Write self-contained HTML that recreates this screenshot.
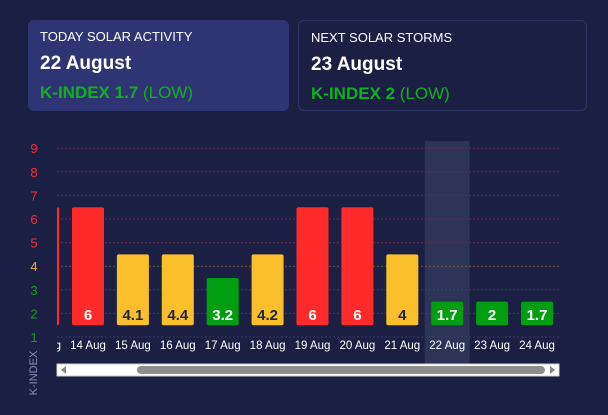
<!DOCTYPE html>
<html><head><meta charset="utf-8"><style>
body{margin:0;width:608px;height:415px;background:#1c1f44;font-family:"Liberation Sans",sans-serif;overflow:hidden;position:relative;color:#fff}
.card{position:absolute;top:20px;height:91px;border-radius:6px;box-sizing:border-box;padding:9px 12px}
.t{font-size:13px;color:#fff;margin-bottom:9px}
.d{font-size:19px;font-weight:bold;margin-bottom:8px}
.k{font-size:17px;color:#10b020;font-weight:bold}
.k span{font-weight:normal}
</style></head><body>
<div class="card" style="left:28px;width:261px;background:#2f3573">
<div class="t">TODAY SOLAR ACTIVITY</div>
<div class="d">22 August</div>
<div class="k">K-INDEX 1.7 <span>(LOW)</span></div></div>
<div class="card" style="left:298px;width:289px;border:1px solid #2f3466">
<div class="t">NEXT SOLAR STORMS</div>
<div class="d">23 August</div>
<div class="k">K-INDEX 2 <span>(LOW)</span></div></div>
<svg id="c" width="608" height="415" style="position:absolute;left:0;top:0"></svg>
<script>
const cats=["13 Aug","14 Aug","15 Aug","16 Aug","17 Aug","18 Aug","19 Aug","20 Aug","21 Aug","22 Aug","23 Aug","24 Aug"];
const vals=[6,6,4.1,4.4,3.2,4.2,6,6,4,1.7,2,1.7];
const yTicks=[1,2,3,4,5,6,7,8,9];
const highlight="22 Aug";
const ns="http://www.w3.org/2000/svg",svg=document.getElementById('c');
function y(v){return 337-(v-1)*23.6}
function x(i){return 88+(i-1)*44.9}
const L=57,R=559;
function mk(t,a,p){const e=document.createElementNS(ns,t);for(const k in a)e.setAttribute(k,a[k]);(p||svg).appendChild(e);return e}
function col(v){return v>=5?"#ff2b2b":v>=4?"#fbbf2b":"#009e10"}
const clip=mk('clipPath',{id:'cl'});mk('rect',{x:L,y:130,width:R-L,height:240},clip);
const hi=cats.indexOf(highlight);
const hb=mk('rect',{x:x(hi)-22.5,y:141,width:45,height:224,fill:"#2e3358"});

yTicks.forEach(v=>{
 const c=v>=5?"#ff2b2b":v==4?"#f4a93a":"#0ea01a";
 const g=mk('line',{x1:L,x2:R,y1:y(v),y2:y(v),stroke:v>=5?"#6b2a4a":v==4?"#7a5a3a":"#3a3f66","stroke-dasharray":"2,2"});
 
 const t=mk('text',{x:34,y:y(v)+5,fill:c,"font-size":13,"text-anchor":"middle"});t.textContent=v;
 
});
const gp=mk('g',{"clip-path":"url(#cl)"});
cats.forEach((c,i)=>{
 const v=vals[i],top=y(Math.round(v)+0.5),bot=y(1.5);
 const b=mk('rect',{x:x(i)-16,y:top,width:32,height:bot-top,rx:2,fill:col(v)},gp);
 
 const t=mk('text',{x:x(i),y:bot-5,fill:v>=4&&v<5?"#222640":"#fff","font-size":15,"font-weight":"bold","text-anchor":"middle"},gp);t.textContent=v;
 
 const l=mk('text',{x:x(i),y:349,fill:"#fff","font-size":11.5,"text-anchor":"middle"},gp);l.textContent=c;
 
});
const yl=mk('text',{x:0,y:0,fill:"#8a8fb0","font-size":11,"text-anchor":"middle",transform:"translate(37,373) rotate(-90)"});yl.textContent="K-INDEX";

const sb=mk('rect',{x:L,y:364,width:R-L,height:12,fill:"#fff",stroke:"#ccc"});

const th=mk('rect',{x:137,y:366,width:408,height:8,rx:4,fill:"#8e8e8e"});

const a1=mk('path',{d:"M61 370 L66 366 L66 374Z",fill:"#888"});

const a2=mk('path',{d:"M555 370 L550 366 L550 374Z",fill:"#888"});

</script></body></html>
